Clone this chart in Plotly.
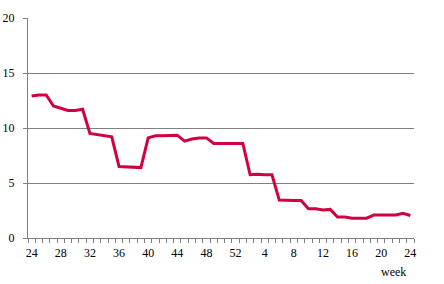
import plotly.graph_objects as go

weeks = list(range(24, 53)) + list(range(1, 25))
values = [12.9, 13.0, 13.0, 12.0, 11.8, 11.6, 11.6, 11.7,
          9.5, 9.4, 9.3, 9.2, 6.5, 6.45, 6.4, 6.4,
          9.1, 9.3, 9.3, 9.35, 9.35, 8.8, 9.0, 9.1, 9.1,
          8.6, 8.6, 8.6, 8.6, 8.6,
          5.75, 5.8, 5.75, 5.75, 3.45, 3.4, 3.4, 3.4,
          2.65, 2.65, 2.55, 2.6, 1.9, 1.9, 1.8, 1.8, 1.8,
          2.1, 2.1, 2.1, 2.1, 2.25, 2.05]
tick_every = 4
y_ticks = [0, 5, 10, 15, 20]

idx = list(range(len(weeks)))
tickvals = idx[::tick_every]
ticktext = [str(weeks[i]) for i in tickvals]

font = dict(family="Liberation Serif, Times New Roman, serif", size=12, color="#000000")

fig = go.Figure()
fig.add_trace(go.Scatter(x=idx, y=values, mode="lines",
                         line=dict(color="#D2003F", width=3), hoverinfo="skip"))

fig.update_layout(
    width=444, height=284,
    margin=dict(l=28, r=30, t=18, b=46, autoexpand=False),
    paper_bgcolor="white", plot_bgcolor="white",
    showlegend=False, font=font,
    xaxis=dict(range=[-0.5, len(weeks) - 0.5], tickvals=tickvals, ticktext=ticktext,
               ticks="", showgrid=False, zeroline=False, automargin=False,
               showline=True, linecolor="#808080", linewidth=1,
               tickfont=font, ticklabelstandoff=4,
               minor=dict(tick0=-0.5, dtick=1, ticks="outside", ticklen=4,
                          tickcolor="#808080", showgrid=False)),
    yaxis=dict(range=[0, 20], tickvals=y_ticks, showgrid=True, gridcolor="#808080",
               gridwidth=1, zeroline=False, showline=True, linecolor="#808080",
               linewidth=1, ticks="outside", ticklen=4, tickcolor="#808080",
               automargin=False, tickfont=font, ticklabelstandoff=6),
    annotations=[dict(text="week", xref="paper", yref="paper", x=0.947, y=-0.155,
                      xanchor="center", yanchor="middle", showarrow=False, font=font)],
)

fig.write_html("out.html")
